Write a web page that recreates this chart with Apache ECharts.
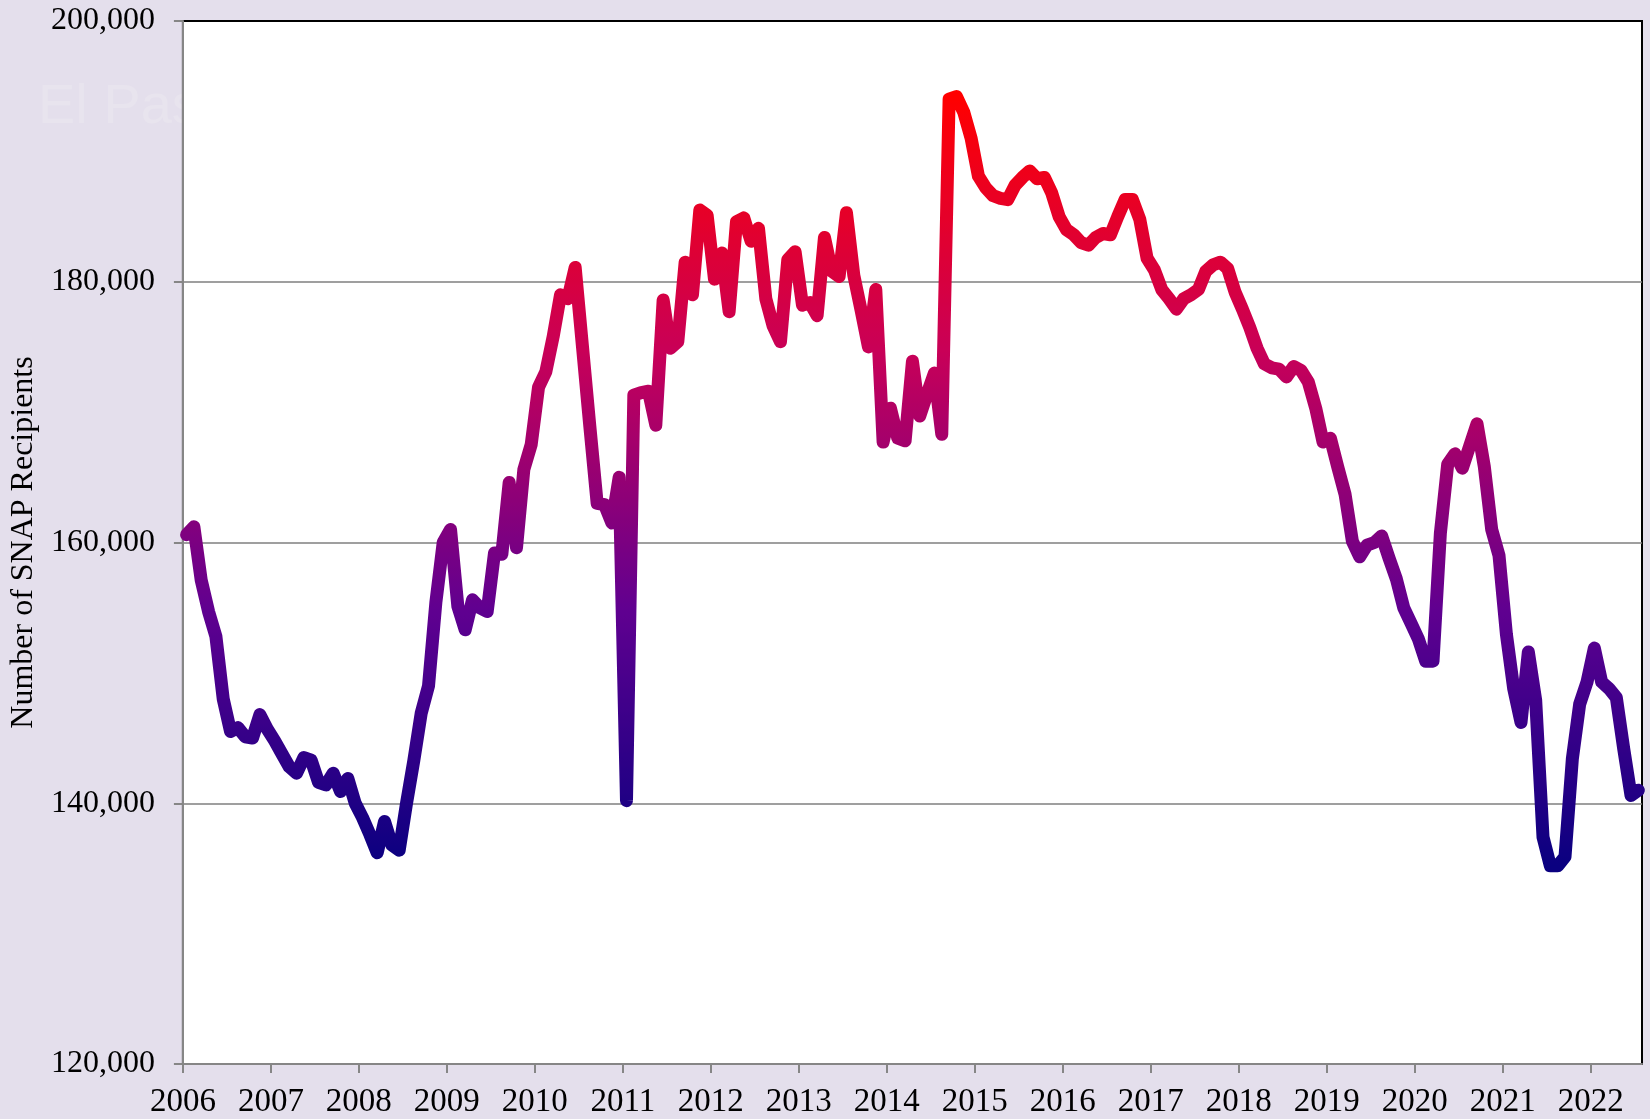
<!DOCTYPE html>
<html>
  <head>
    <meta charset="utf-8" />
    <title>SNAP Recipients</title>
    <script src="https://cdn.jsdelivr.net/npm/echarts@6.0.0/dist/echarts.min.js"></script>
    <style>
      html, body { margin: 0; padding: 0; background: #e4dfec; }
    </style>
  </head>
  <body>
    <div id="main" style="width: 1650px;height: 1119px;"></div>
    <script type="text/javascript">
      // monthly SNAP recipients, Jan 2006 .. Jul 2022
      var startYear = 2006
      var yearTicks = [2006, 2007, 2008, 2009, 2010, 2011, 2012, 2013, 2014, 2015, 2016, 2017, 2018, 2019, 2020, 2021, 2022]
      var snap2006 = [160600, 161200, 157100, 154700, 152800, 148000, 145500, 145800, 145100, 145000, 146800, 145700]
      var snap2007 = [144800, 143800, 142800, 142300, 143500, 143300, 141600, 141400, 142300, 140900, 141900, 140000]
      var snap2008 = [138900, 137600, 136200, 138600, 136800, 136400, 140000, 143300, 146900, 149000, 155400, 160000]
      var snap2009 = [161000, 155100, 153300, 155600, 155000, 154700, 159200, 159100, 164600, 159600, 165600, 167500]
      var snap2010 = [171900, 173100, 175800, 179000, 178700, 181100, 175000, 168900, 163000, 162900, 161500, 165000]
      var snap2011 = [140200, 171300, 171500, 171600, 169000, 178600, 174900, 175400, 181500, 179000, 185500, 185100]
      var snap2012 = [180200, 182200, 177700, 184600, 184900, 183100, 184100, 178700, 176600, 175400, 181700, 182300]
      var snap2013 = [178200, 178400, 177400, 183400, 180800, 180400, 185300, 180500, 177800, 175000, 179400, 167700]
      var snap2014 = [170300, 168000, 167800, 173900, 169700, 171400, 173000, 168300, 194000, 194200, 193000, 191000]
      var snap2015 = [188100, 187200, 186600, 186400, 186300, 187400, 188000, 188500, 187900, 188000, 186800, 185000]
      var snap2016 = [184000, 183600, 183000, 182800, 183400, 183700, 183600, 185000, 186300, 186300, 184800, 181800]
      var snap2017 = [180900, 179400, 178700, 177900, 178700, 179000, 179400, 180800, 181300, 181500, 181000, 179200]
      var snap2018 = [177900, 176500, 174900, 173700, 173400, 173300, 172700, 173500, 173200, 172300, 170300, 167700]
      var snap2019 = [168000, 165800, 163700, 160100, 158900, 159800, 160000, 160500, 158800, 157200, 155000, 153800]
      var snap2020 = [152600, 150900, 150900, 160700, 166000, 166800, 165700, 167400, 169100, 165800, 161000, 159000]
      var snap2021 = [153000, 148800, 146200, 151600, 147900, 137400, 135200, 135200, 135900, 143400, 147600, 149300]
      var snap2022 = [151900, 149300, 148800, 148100, 144200, 140600, 141000]

      var monthly = [].concat(snap2006, snap2007, snap2008, snap2009, snap2010, snap2011,
        snap2012, snap2013, snap2014, snap2015, snap2016, snap2017, snap2018, snap2019,
        snap2020, snap2021, snap2022)

      // each month sits in the middle of its slot on the date axis
      var points = monthly.map(function (v, i) {
        return [startYear + (i + 0.5) / 12, v]
      })

      var myChart = echarts.init(document.getElementById('main'))
      var axisGray = '#868686'

      var option = {
        backgroundColor: '#e4dfec',
        animation: false,
        textStyle: { fontFamily: 'Liberation Serif' },
        graphic: [
          {
            type: 'text',
            left: 38,
            top: 80,
            z: -1,
            style: {
              text: 'El Paso County',
              fontSize: 56,
              fontFamily: 'Liberation Sans',
              fill: '#e8e4ee'
            }
          }
        ],
        grid: {
          left: 180,
          right: 8,
          top: 21,
          bottom: 55,
          show: true,
          backgroundColor: '#ffffff',
          borderColor: '#000000',
          borderWidth: 2
        },
        xAxis: {
          type: 'value',
          min: startYear,
          max: startYear + monthly.length / 12,
          interval: 1,
          axisLine: { show: true, lineStyle: { color: axisGray, width: 2 } },
          axisTick: {
            show: true,
            length: 9,
            customValues: yearTicks,
            lineStyle: { color: axisGray, width: 2 }
          },
          axisLabel: {
            customValues: yearTicks,
            fontSize: 33,
            color: '#000',
            margin: 22,
            formatter: function (v) { return String(v) }
          },
          splitLine: { show: false }
        },
        yAxis: {
          type: 'value',
          min: 120000,
          max: 200000,
          interval: 20000,
          name: 'Number of SNAP Recipients',
          nameLocation: 'middle',
          nameRotate: 90,
          nameGap: 141,
          nameTextStyle: { fontSize: 32, color: '#000' },
          axisLine: { show: true, lineStyle: { color: axisGray, width: 2 } },
          axisTick: { show: true, length: 9, lineStyle: { color: axisGray, width: 2 } },
          axisLabel: {
            fontSize: 32,
            color: '#000',
            margin: 28,
            formatter: function (v) { return v.toLocaleString('en-US') }
          },
          splitLine: {
            show: true,
            showMinLine: false,
            showMaxLine: false,
            lineStyle: { color: '#7f7f7f', width: 1.5 }
          }
        },
        visualMap: {
          show: false,
          type: 'continuous',
          dimension: 1,
          min: Math.min.apply(null, monthly),
          max: Math.max.apply(null, monthly),
          inRange: { color: ['#0a0080', '#600090', '#c80058', '#ff0000'] }
        },
        series: [
          {
            type: 'line',
            data: points,
            symbol: 'none',
            lineStyle: { width: 13, cap: 'round', join: 'round' }
          }
        ]
      }
      myChart.setOption(option)
    </script>
  </body>
</html>
